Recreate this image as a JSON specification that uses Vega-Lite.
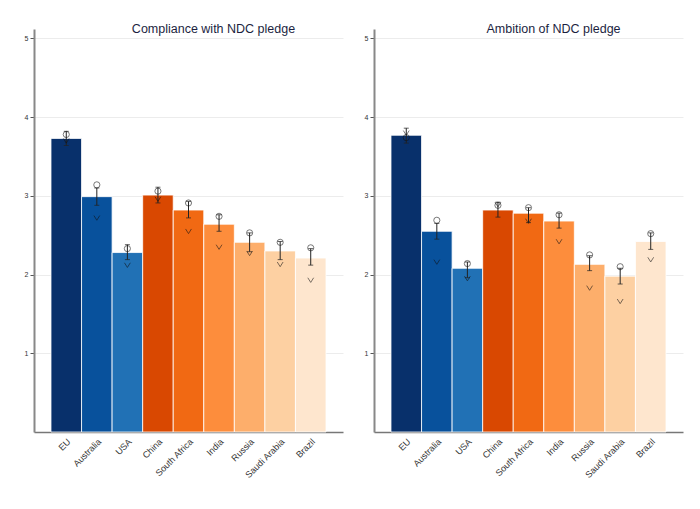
{
  "$schema": "https://vega.github.io/schema/vega-lite/v6.json",
  "background": "white",
  "padding": {"left": 24, "top": 22, "right": 5, "bottom": 5},
  "spacing": 31,
  "bounds": "flush",
  "config": {
    "font": "Liberation Sans",
    "view": {"stroke": null},
    "title": {"fontSize": 12.5, "fontWeight": "normal", "color": "#1c1f3f", "dx": 25, "offset": -6}
  },
  "datasets": {
    "d": [
      {"panel": "Compliance", "country": "EU", "mean": 3.73, "lo": 3.64, "hi": 3.82, "circle": 3.78, "v": 3.70},
      {"panel": "Compliance", "country": "Australia", "mean": 2.99, "lo": 2.88, "hi": 3.10, "circle": 3.14, "v": 2.72},
      {"panel": "Compliance", "country": "USA", "mean": 2.28, "lo": 2.19, "hi": 2.38, "circle": 2.33, "v": 2.12},
      {"panel": "Compliance", "country": "China", "mean": 3.01, "lo": 2.91, "hi": 3.11, "circle": 3.06, "v": 2.96},
      {"panel": "Compliance", "country": "South Africa", "mean": 2.82, "lo": 2.72, "hi": 2.93, "circle": 2.91, "v": 2.55},
      {"panel": "Compliance", "country": "India", "mean": 2.64, "lo": 2.55, "hi": 2.76, "circle": 2.74, "v": 2.35},
      {"panel": "Compliance", "country": "Russia", "mean": 2.41, "lo": 2.29, "hi": 2.53, "circle": 2.53, "v": 2.27},
      {"panel": "Compliance", "country": "Saudi Arabia", "mean": 2.30, "lo": 2.19, "hi": 2.42, "circle": 2.41, "v": 2.13},
      {"panel": "Compliance", "country": "Brazil", "mean": 2.21, "lo": 2.12, "hi": 2.33, "circle": 2.34, "v": 1.93},
      {"panel": "Ambition", "country": "EU", "mean": 3.77, "lo": 3.67, "hi": 3.86, "circle": 3.74, "v": 3.80},
      {"panel": "Ambition", "country": "Australia", "mean": 2.55, "lo": 2.45, "hi": 2.65, "circle": 2.69, "v": 2.16},
      {"panel": "Ambition", "country": "USA", "mean": 2.08, "lo": 1.96, "hi": 2.16, "circle": 2.14, "v": 1.95},
      {"panel": "Ambition", "country": "China", "mean": 2.82, "lo": 2.73, "hi": 2.92, "circle": 2.88, "v": 2.89},
      {"panel": "Ambition", "country": "South Africa", "mean": 2.78, "lo": 2.66, "hi": 2.85, "circle": 2.85, "v": 2.68},
      {"panel": "Ambition", "country": "India", "mean": 2.68, "lo": 2.59, "hi": 2.78, "circle": 2.76, "v": 2.42},
      {"panel": "Ambition", "country": "Russia", "mean": 2.13, "lo": 2.05, "hi": 2.24, "circle": 2.25, "v": 1.83},
      {"panel": "Ambition", "country": "Saudi Arabia", "mean": 1.98, "lo": 1.88, "hi": 2.08, "circle": 2.10, "v": 1.66},
      {"panel": "Ambition", "country": "Brazil", "mean": 2.42, "lo": 2.32, "hi": 2.53, "circle": 2.52, "v": 2.19}
    ]
  },
  "hconcat": [
    {
      "title": "Compliance with NDC pledge",
      "width": 309,
      "height": 403,
      "data": {"name": "d"},
      "transform": [{"filter": "datum.panel === 'Compliance'"}],
      "encoding": {
        "x": {
          "field": "country", "type": "nominal",
          "sort": ["EU", "Australia", "USA", "China", "South Africa", "India", "Russia", "Saudi Arabia", "Brazil"],
          "scale": {"paddingInner": 0, "paddingOuter": 0.556},
          "axis": {"title": null, "ticks": false, "labelAngle": -45, "labelFontSize": 9, "labelColor": "#333", "domainColor": "#777", "domainWidth": 1.5, "labelPadding": 5}
        }
      },
      "layer": [
        {
          "mark": {"type": "bar", "stroke": "white", "strokeWidth": 0.8},
          "encoding": {
            "y": {"field": "mean", "type": "quantitative", "scale": {"domain": [0, 5.12], "nice": false},
              "axis": {"title": null, "values": [1, 2, 3, 4, 5], "format": "d", "gridColor": "#ececec", "domainColor": "#888", "domainWidth": 2, "tickSize": 4, "tickColor": "#555", "labelFontSize": 7, "labelColor": "#333", "labelPadding": 2}},
            "color": {"field": "country", "type": "nominal", "legend": null,
              "scale": {"domain": ["EU", "Australia", "USA", "China", "South Africa", "India", "Russia", "Saudi Arabia", "Brazil"],
                "range": ["#08306b", "#08519c", "#2171b5", "#d94801", "#f16913", "#fd8d3c", "#fdae6b", "#fdd0a2", "#fee6ce"]}}
          }
        },
        {"mark": {"type": "rule", "color": "#222", "strokeWidth": 1}, "encoding": {"y": {"field": "lo", "type": "quantitative"}, "y2": {"field": "hi"}}},
        {"mark": {"type": "tick", "color": "#222", "size": 5, "thickness": 1}, "encoding": {"y": {"field": "lo", "type": "quantitative"}}},
        {"mark": {"type": "tick", "color": "#222", "size": 5, "thickness": 1}, "encoding": {"y": {"field": "hi", "type": "quantitative"}}},
        {"mark": {"type": "point", "shape": "circle", "filled": false, "stroke": "#111", "strokeWidth": 0.8, "size": 38}, "encoding": {"y": {"field": "circle", "type": "quantitative"}}},
        {"mark": {"type": "point", "shape": "M-1,-0.8L0,0.8L1,-0.8", "filled": false, "stroke": "#111", "strokeWidth": 0.8, "size": 34}, "encoding": {"y": {"field": "v", "type": "quantitative"}}}
      ]
    },
    {
      "title": "Ambition of NDC pledge",
      "width": 309,
      "height": 403,
      "data": {"name": "d"},
      "transform": [{"filter": "datum.panel === 'Ambition'"}],
      "encoding": {
        "x": {
          "field": "country", "type": "nominal",
          "sort": ["EU", "Australia", "USA", "China", "South Africa", "India", "Russia", "Saudi Arabia", "Brazil"],
          "scale": {"paddingInner": 0, "paddingOuter": 0.556},
          "axis": {"title": null, "ticks": false, "labelAngle": -45, "labelFontSize": 9, "labelColor": "#333", "domainColor": "#777", "domainWidth": 1.5, "labelPadding": 5}
        }
      },
      "layer": [
        {
          "mark": {"type": "bar", "stroke": "white", "strokeWidth": 0.8},
          "encoding": {
            "y": {"field": "mean", "type": "quantitative", "scale": {"domain": [0, 5.12], "nice": false},
              "axis": {"title": null, "values": [1, 2, 3, 4, 5], "format": "d", "gridColor": "#ececec", "domainColor": "#888", "domainWidth": 2, "tickSize": 4, "tickColor": "#555", "labelFontSize": 7, "labelColor": "#333", "labelPadding": 2}},
            "color": {"field": "country", "type": "nominal", "legend": null,
              "scale": {"domain": ["EU", "Australia", "USA", "China", "South Africa", "India", "Russia", "Saudi Arabia", "Brazil"],
                "range": ["#08306b", "#08519c", "#2171b5", "#d94801", "#f16913", "#fd8d3c", "#fdae6b", "#fdd0a2", "#fee6ce"]}}
          }
        },
        {"mark": {"type": "rule", "color": "#222", "strokeWidth": 1}, "encoding": {"y": {"field": "lo", "type": "quantitative"}, "y2": {"field": "hi"}}},
        {"mark": {"type": "tick", "color": "#222", "size": 5, "thickness": 1}, "encoding": {"y": {"field": "lo", "type": "quantitative"}}},
        {"mark": {"type": "tick", "color": "#222", "size": 5, "thickness": 1}, "encoding": {"y": {"field": "hi", "type": "quantitative"}}},
        {"mark": {"type": "point", "shape": "circle", "filled": false, "stroke": "#111", "strokeWidth": 0.8, "size": 38}, "encoding": {"y": {"field": "circle", "type": "quantitative"}}},
        {"mark": {"type": "point", "shape": "M-1,-0.8L0,0.8L1,-0.8", "filled": false, "stroke": "#111", "strokeWidth": 0.8, "size": 34}, "encoding": {"y": {"field": "v", "type": "quantitative"}}}
      ]
    }
  ]
}
